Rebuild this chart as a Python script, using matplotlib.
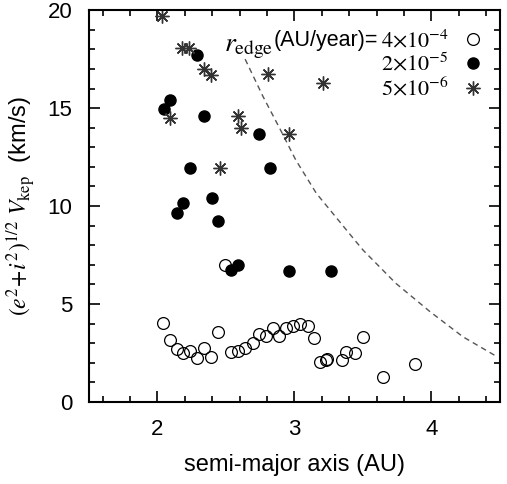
import numpy as np
import matplotlib
matplotlib.use('Agg')
import matplotlib.pyplot as plt
from matplotlib.ticker import MultipleLocator

plt.rcParams['font.family'] = ['Liberation Sans', 'DejaVu Sans']
plt.rcParams['mathtext.fontset'] = 'stix'

# open circles, r_edge = 4e-4
a_open = [2.04, 2.09, 2.14, 2.19, 2.24, 2.29, 2.34, 2.39, 2.44, 2.49, 2.54, 2.59,
          2.64, 2.70, 2.74, 2.79, 2.84, 2.89, 2.94, 2.99, 3.04, 3.10, 3.14, 3.19,
          3.23, 3.24, 3.35, 3.38, 3.44, 3.50, 3.65, 3.88]
v_open = [4.01, 3.15, 2.72, 2.52, 2.62, 2.23, 2.77, 2.30, 3.59, 6.99, 2.54, 2.60,
          2.74, 3.01, 3.45, 3.38, 3.79, 3.37, 3.76, 3.89, 3.98, 3.88, 3.28, 2.06,
          2.14, 2.18, 2.13, 2.57, 2.52, 3.30, 1.28, 1.95]

# filled circles, r_edge = 2e-5
a_fill = [2.05, 2.09, 2.29, 2.34, 2.74, 2.24, 2.82, 2.14, 2.19, 2.40, 2.44,
          2.54, 2.59, 2.96, 3.27]
v_fill = [14.93, 15.44, 17.70, 14.61, 13.67, 11.92, 11.92, 9.63, 10.17, 10.39, 9.23,
          6.73, 6.97, 6.70, 6.70]

# asterisks, r_edge = 5e-6
a_star = [2.03, 2.18, 2.23, 2.34, 2.39, 2.81, 3.21, 2.09, 2.59, 2.61, 2.96, 2.46]
v_star = [19.69, 18.05, 18.05, 17.02, 16.68, 16.73, 16.26, 14.52, 14.61, 13.99,
          13.66, 11.95]

# dashed limit curve
a_curve = [2.64, 2.77, 2.89, 3.01, 3.16, 3.26, 3.43, 3.50, 3.74, 3.99, 4.23, 4.48]
v_curve = [17.5, 15.6, 14.0, 12.35, 10.65, 9.8, 8.35, 7.76, 6.06, 4.61, 3.33, 2.31]

fig = plt.figure(figsize=(5.07, 4.84), dpi=100)
ax = fig.add_axes([0.1755, 0.1694, 0.8105, 0.8096])

ax.plot(a_curve, v_curve, ls=(0, (4, 3)), color='#555555', lw=1.0)
h1, = ax.plot(a_open, v_open, 'o', ms=8.5, mfc='none', mec='black', mew=0.9,
              label=r'$4{\times}10^{-4}$')
h2, = ax.plot(a_fill, v_fill, 'o', ms=8, mfc='black', mec='black',
              label=r'$2{\times}10^{-5}$')
h3, = ax.plot(a_star, v_star, ls='none', marker=(8, 2, 0), ms=10, mec='#333333',
              mew=1.0, label=r'$5{\times}10^{-6}$')

ax.set_xlim(1.5, 4.5)
ax.set_ylim(0, 20)
ax.xaxis.set_major_locator(MultipleLocator(1))
ax.xaxis.set_minor_locator(MultipleLocator(0.2))
ax.yaxis.set_major_locator(MultipleLocator(5))
ax.yaxis.set_minor_locator(MultipleLocator(1))
ax.tick_params(which='both', direction='in', top=True, right=True, width=1.2,
               labelsize=16)
ax.tick_params(which='major', length=8, pad=12)
ax.tick_params(which='minor', length=4.5)
for s in ax.spines.values():
    s.set_linewidth(1.5)

ax.set_xlabel('semi-major axis (AU)', fontsize=17, labelpad=10)
ax.set_ylabel(r'$(e^2\!+\!i^2)^{1/2}\ V_{\rm kep}$  (km/s)', fontsize=17, labelpad=7)

leg = ax.legend(handles=[h1, h2, h3], loc='upper right', bbox_to_anchor=(1.0, 0.99),
                markerfirst=False, frameon=False, fontsize=16, labelspacing=0.05,
                handlelength=1.0, handletextpad=0.6, borderaxespad=0.3)

# prefix text placed just left of the first legend entry
fig.canvas.draw()
bb = leg.get_texts()[0].get_window_extent()
x0, y0 = ax.transAxes.inverted().transform((bb.x0 - 3, (bb.y0 + bb.y1) / 2))
t_unit = ax.text(x0, y0, '(AU/year)=', transform=ax.transAxes,
                 ha='right', va='center', fontsize=15.5)
fig.canvas.draw()
bu = t_unit.get_window_extent()
x1, y1 = ax.transAxes.inverted().transform((bu.x0, bu.y0))
ax.text(x1, y1, r'$r_{\rm edge}$', transform=ax.transAxes,
        ha='right', va='baseline', fontsize=20)

fig.savefig('out.png', dpi=100)
